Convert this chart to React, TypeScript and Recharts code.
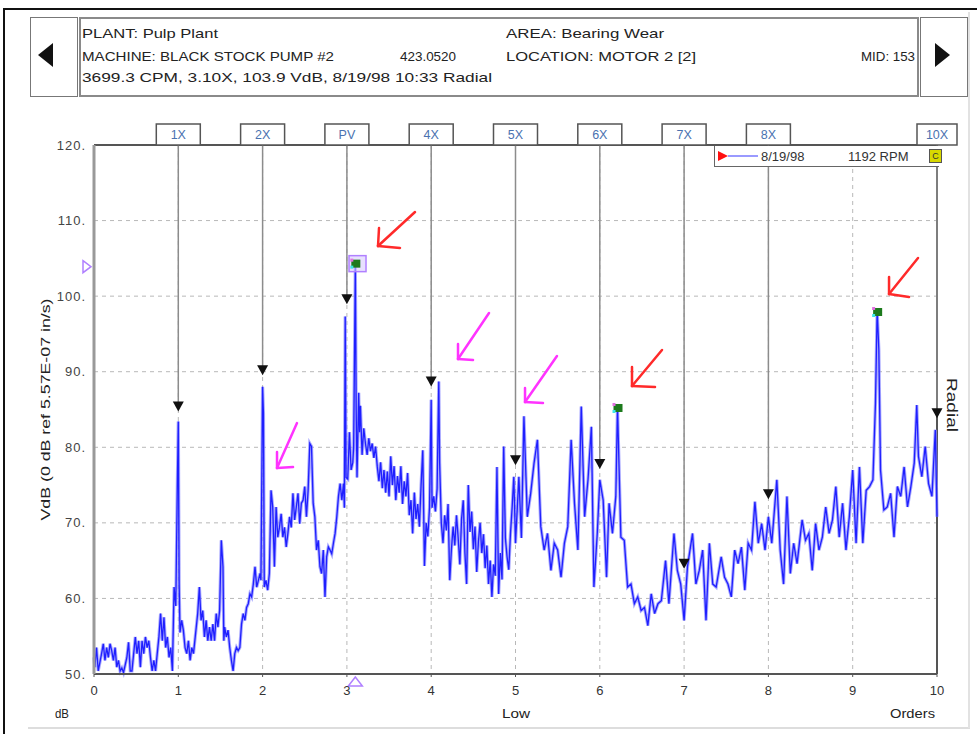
import React from 'react';
import { ComposedChart, Line, Scatter, XAxis, YAxis, CartesianGrid, ReferenceLine, ReferenceDot } from 'recharts';

// Spectrum: order (x) and level in VdB (y)
const orders = [
  0.00, 0.01, 0.03, 0.05, 0.09, 0.11, 0.13, 0.15, 0.17, 0.19, 0.21, 0.23, 0.25, 0.27, 0.29, 0.31, 0.33, 0.35, 0.39, 0.41,
  0.43, 0.45, 0.49, 0.51, 0.53, 0.55, 0.57, 0.59, 0.61, 0.63, 0.65, 0.67, 0.69, 0.71, 0.73, 0.75, 0.77, 0.79, 0.81, 0.83,
  0.85, 0.87, 0.89, 0.91, 0.93, 0.95, 0.97, 0.99, 1.00, 1.01, 1.02, 1.04, 1.06, 1.08, 1.10, 1.12, 1.14, 1.16, 1.18, 1.23,
  1.25, 1.27, 1.29, 1.31, 1.33, 1.35, 1.37, 1.39, 1.41, 1.43, 1.45, 1.47, 1.49, 1.51, 1.53, 1.54, 1.55, 1.57, 1.59, 1.61,
  1.63, 1.65, 1.67, 1.69, 1.71, 1.73, 1.75, 1.77, 1.79, 1.81, 1.83, 1.85, 1.87, 1.89, 1.91, 1.93, 1.95, 1.97, 1.98, 1.99,
  2.00, 2.01, 2.02, 2.04, 2.06, 2.08, 2.10, 2.12, 2.14, 2.16, 2.18, 2.20, 2.22, 2.24, 2.26, 2.28, 2.30, 2.32, 2.34, 2.36,
  2.38, 2.40, 2.42, 2.44, 2.46, 2.48, 2.50, 2.52, 2.54, 2.56, 2.58, 2.60, 2.62, 2.64, 2.66, 2.68, 2.70, 2.72, 2.74, 2.76,
  2.78, 2.80, 2.82, 2.84, 2.86, 2.88, 2.90, 2.92, 2.94, 2.96, 2.97, 2.98, 2.99, 3.01, 3.03, 3.05, 3.07, 3.08, 3.10, 3.11,
  3.12, 3.14, 3.15, 3.16, 3.18, 3.20, 3.22, 3.24, 3.26, 3.28, 3.30, 3.32, 3.34, 3.36, 3.38, 3.40, 3.42, 3.44, 3.46, 3.48,
  3.50, 3.52, 3.54, 3.56, 3.58, 3.60, 3.62, 3.64, 3.66, 3.68, 3.70, 3.72, 3.74, 3.76, 3.78, 3.80, 3.82, 3.84, 3.86, 3.88,
  3.90, 3.92, 3.94, 3.96, 3.98, 4.00, 4.01, 4.03, 4.05, 4.07, 4.09, 4.10, 4.12, 4.14, 4.16, 4.18, 4.20, 4.22, 4.24, 4.26,
  4.28, 4.30, 4.32, 4.34, 4.36, 4.38, 4.40, 4.42, 4.44, 4.46, 4.48, 4.50, 4.52, 4.54, 4.56, 4.58, 4.60, 4.62, 4.64, 4.66,
  4.68, 4.70, 4.72, 4.74, 4.76, 4.78, 4.80, 4.82, 4.84, 4.86, 4.88, 4.90, 4.92, 4.94, 4.96, 4.98, 5.00, 5.04, 5.07, 5.10,
  5.14, 5.18, 5.22, 5.26, 5.30, 5.34, 5.38, 5.42, 5.46, 5.50, 5.54, 5.58, 5.62, 5.66, 5.70, 5.74, 5.78, 5.82, 5.86, 5.90,
  5.93, 5.97, 6.00, 6.04, 6.08, 6.11, 6.15, 6.19, 6.21, 6.25, 6.29, 6.33, 6.37, 6.41, 6.45, 6.49, 6.53, 6.57, 6.61, 6.65,
  6.69, 6.73, 6.78, 6.82, 6.88, 6.92, 6.96, 7.00, 7.04, 7.10, 7.14, 7.18, 7.22, 7.26, 7.30, 7.34, 7.38, 7.44, 7.48, 7.52,
  7.56, 7.60, 7.64, 7.68, 7.72, 7.76, 7.80, 7.84, 7.88, 7.92, 7.96, 8.00, 8.04, 8.10, 8.14, 8.18, 8.22, 8.26, 8.30, 8.34,
  8.40, 8.44, 8.48, 8.52, 8.56, 8.60, 8.64, 8.68, 8.72, 8.76, 8.80, 8.84, 8.88, 8.92, 8.96, 9.00, 9.04, 9.08, 9.12, 9.16,
  9.20, 9.24, 9.27, 9.29, 9.31, 9.33, 9.37, 9.41, 9.45, 9.49, 9.53, 9.57, 9.61, 9.65, 9.69, 9.73, 9.76, 9.78, 9.82, 9.86,
  9.90, 9.94, 9.98, 10.00,
];
const vdb = [
  52.2, 50.9, 53.5, 50.4, 52.7, 54.0, 51.8, 53.5, 52.2, 54.0, 53.1, 51.8, 53.5, 50.9, 51.8, 50.4, 50.8, 50.2, 52.2, 54.2,
  50.4, 50.4, 54.9, 52.7, 54.4, 50.9, 54.4, 52.7, 54.9, 53.5, 54.4, 52.2, 50.4, 51.8, 50.4, 52.7, 54.9, 58.0, 54.4, 57.5,
  53.5, 54.9, 52.2, 53.5, 50.4, 61.5, 59.0, 76.1, 83.4, 62.0, 55.5, 57.1, 55.8, 53.5, 52.7, 54.4, 51.8, 53.5, 52.7, 58.0,
  61.5, 57.1, 58.4, 54.9, 57.1, 54.4, 56.2, 54.4, 56.6, 54.4, 58.0, 56.2, 58.4, 67.7, 64.2, 54.4, 56.2, 54.9, 55.8, 53.5,
  51.8, 50.4, 52.7, 53.5, 53.1, 53.5, 56.6, 58.0, 57.1, 58.8, 59.3, 60.6, 60.2, 61.9, 64.2, 61.5, 62.4, 63.3, 62.4, 75.0,
  88.0, 84.5, 61.5, 62.4, 61.1, 63.3, 74.3, 72.1, 64.2, 72.1, 68.1, 69.4, 71.2, 68.1, 69.4, 66.8, 68.6, 70.8, 69.4, 73.9,
  70.4, 72.1, 73.9, 69.9, 72.6, 73.0, 74.8, 70.8, 74.3, 80.5, 80.1, 72.6, 70.8, 66.4, 67.7, 64.2, 63.3, 66.4, 60.2, 65.5,
  66.8, 66.4, 65.9, 67.3, 68.6, 70.8, 73.5, 75.2, 73.0, 75.2, 72.0, 97.3, 76.0, 75.8, 82.0, 77.0, 78.0, 80.0, 104.0, 85.0,
  76.0, 87.2, 82.0, 85.5, 79.0, 82.5, 80.5, 79.0, 81.2, 79.5, 80.5, 78.6, 80.1, 77.5, 75.5, 78.0, 74.6, 77.0, 74.0, 76.8,
  73.5, 78.8, 75.0, 77.5, 73.0, 76.2, 74.0, 77.5, 72.5, 75.5, 73.5, 76.6, 71.0, 73.0, 68.6, 74.0, 70.5, 72.5, 69.5, 75.0,
  79.6, 64.3, 70.0, 68.2, 72.0, 86.3, 72.0, 73.5, 71.5, 74.5, 88.7, 78.0, 70.0, 67.3, 71.0, 69.0, 72.5, 62.4, 66.5, 69.5,
  67.0, 71.0, 68.0, 64.5, 70.5, 73.0, 66.0, 61.9, 75.0, 68.8, 71.5, 66.5, 69.5, 63.5, 67.5, 70.0, 66.0, 68.5, 64.0, 67.0,
  61.9, 65.0, 60.2, 64.5, 63.0, 77.4, 60.6, 66.0, 62.5, 80.1, 68.0, 65.5, 63.8, 68.5, 72.0, 76.1, 67.3, 76.1, 68.0, 84.1,
  70.8, 73.9, 77.9, 81.0, 69.5, 66.4, 68.6, 63.7, 67.3, 66.4, 62.8, 67.3, 69.5, 81.0, 72.6, 66.4, 85.4, 70.8, 75.7, 82.7,
  61.5, 68.6, 75.7, 73.0, 62.8, 72.6, 68.6, 73.5, 85.4, 68.1, 67.7, 61.5, 61.9, 59.3, 60.2, 58.4, 58.8, 56.4, 60.6, 58.0,
  59.3, 59.7, 65.0, 59.3, 68.6, 63.7, 61.9, 57.1, 64.2, 68.6, 61.9, 63.7, 66.4, 57.1, 67.3, 61.9, 61.5, 65.5, 62.8, 61.9,
  60.2, 66.4, 64.6, 66.8, 61.1, 67.3, 66.4, 72.8, 67.3, 69.9, 66.4, 70.8, 67.3, 75.7, 66.4, 61.9, 73.5, 63.3, 67.3, 64.6,
  70.4, 67.7, 68.6, 63.7, 69.9, 66.4, 68.1, 72.1, 68.6, 70.4, 74.8, 68.1, 72.6, 66.4, 70.8, 77.0, 67.3, 77.4, 67.3, 74.3,
  74.8, 75.7, 85.8, 98.2, 92.9, 77.0, 71.7, 72.1, 73.9, 68.1, 74.8, 73.5, 77.4, 72.1, 74.8, 77.9, 85.6, 78.8, 76.1, 80.1,
  75.2, 73.5, 82.3, 70.8,
];

// Order markers (cursor labels along the top)
const markerNames = ['1X', '2X', 'PV', '4X', '5X', '6X', '7X', '8X', '10X'];
const markerOrders = [1, 2, 3, 4, 5, 6, 7, 8, 10];
const markerLevels = [85.4, 90.2, 99.6, 88.7, 78.3, 77.8, 64.6, 73.8, 84.5];

// Detected peaks (green markers)
const peakOrders = [3.1, 6.21, 9.29];
const peakLevels = [104.3, 85.2, 97.9];

// Cursor reading
const cursorOrder = 3.1;
const cursorLevel = 103.9;

const xTicks = [0, 1, 2, 3, 4, 5, 6, 7, 8, 9, 10];
const yTicks = [50, 60, 70, 80, 90, 100, 110, 120];

// Hand-drawn annotation arrows: [tailX, tailY, headX, headY, barbHx, barbHy, barbVx, barbVy]
const redArrows = [
  [3.808, 111.13, 3.369, 106.63, 3.63, 106.37, 3.381, 109.02],
  [6.738, 92.87, 6.382, 88.11, 6.655, 87.98, 6.382, 90.62],
  [9.775, 105.05, 9.431, 100.28, 9.668, 99.89, 9.431, 102.53],
];
const magentaArrows = [
  [2.408, 83.21, 2.171, 77.26, 2.361, 77.39, 2.171, 79.38],
  [4.686, 97.77, 4.318, 91.68, 4.496, 91.55, 4.318, 93.67],
  [5.492, 92.08, 5.113, 85.99, 5.326, 85.86, 5.113, 87.84],
];

// Header texts: [text, left, baseline, width]
const headerTexts: [string, number, number, number][] = [
  ['PLANT: Pulp Plant', 82, 38, 136],
  ['AREA: Bearing Wear', 506, 38, 158],
  ['MACHINE: BLACK STOCK PUMP #2', 82, 61, 252],
  ['423.0520', 400, 61, 56],
  ['LOCATION: MOTOR 2 [2]', 506, 61, 190],
  ['MID: 153', 861, 61, 54],
  ['3699.3 CPM, 3.10X, 103.9 VdB, 8/19/98 10:33  Radial', 82, 82, 410],
];

const FONT = '"Liberation Sans", Arial, sans-serif';

const TriDown = (p: any) => {
  const { cx, cy } = p;
  if (cx == null || cy == null) return <g />;
  return <path d={`M${cx - 5.5},${cy - 5} L${cx + 5.5},${cy - 5} L${cx},${cy + 5} Z`} fill="#111" />;
};

const PeakMark = (p: any) => {
  const { cx, cy } = p;
  if (cx == null || cy == null) return <g />;
  return (
    <g>
      <rect x={cx - 4} y={cy - 4} width={9} height={8} fill="#1c7a1c" />
      <rect x={cx - 5} y={cy + 2} width={3} height={3} fill="#3ee8e8" />
      <rect x={cx - 5} y={cy - 5} width={3} height={3} fill="#e070e0" />
    </g>
  );
};

const makeLabelBox = (text: string) => (p: any) => {
  const { cx, cy } = p;
  if (cx == null || cy == null) return <g />;
  const w = text.length > 2 ? 40 : 44;
  return (
    <g>
      <rect x={cx - w / 2} y={cy - 21} width={w} height={21} fill="#fff" stroke="#555" strokeWidth={1.5} />
      <text x={cx} y={cy - 6} textAnchor="middle" fontFamily={FONT} fontSize={12.5} fill="#4a72b0">{text}</text>
    </g>
  );
};

const CursorLeft = (p: any) => {
  const { cx, cy } = p;
  if (cx == null || cy == null) return <g />;
  return <path d={`M${cx - 11},${cy - 6} L${cx - 3},${cy} L${cx - 11},${cy + 6} Z`} fill="none" stroke="#b080ff" strokeWidth={1.5} />;
};

const CursorBottom = (p: any) => {
  const { cx, cy } = p;
  if (cx == null || cy == null) return <g />;
  return <path d={`M${cx - 7},${cy + 12} L${cx},${cy + 3} L${cx + 7},${cy + 12} Z`} fill="none" stroke="#b080ff" strokeWidth={1.5} />;
};

const CursorBox = (p: any) => {
  const { cx, cy } = p;
  if (cx == null || cy == null) return <g />;
  return <rect x={cx - 8} y={cy - 8} width={17} height={16} fill="#d9ccff" fillOpacity={0.6} stroke="#b080ff" strokeWidth={1.5} />;
};

function arrowLines(arr: number[][], color: string, prefix: string) {
  const out: any[] = [];
  arr.forEach((a, i) => {
    const segs = [
      [a[0], a[1], a[2], a[3]],
      [a[2], a[3], a[4], a[5]],
      [a[2], a[3], a[6], a[7]],
    ];
    segs.forEach((s, j) => {
      out.push(
        <ReferenceLine
          key={`${prefix}-${i}-${j}`}
          segment={[{ x: s[0], y: s[1] }, { x: s[2], y: s[3] }]}
          stroke={color}
          strokeWidth={2.5}
          strokeLinecap="round"
          ifOverflow="visible"
        />
      );
    });
  });
  return out;
}

export default function App() {
  const lineData = orders.map((x, i) => ({ x, y: vdb[i] }));
  const markerData = markerOrders.map((x, i) => ({ x, y: markerLevels[i] }));
  const peakData = peakOrders.map((x, i) => ({ x, y: peakLevels[i] }));

  return (
    <div style={{ position: 'absolute', left: 0, top: 0, width: 977, height: 734, background: '#fff', overflow: 'hidden' }}>
      {/* outer frame */}
      <div style={{ position: 'absolute', left: 3, top: 8, width: 980, height: 2, background: '#111' }} />
      <div style={{ position: 'absolute', left: 3, top: 8, width: 2, height: 730, background: '#111' }} />
      <div style={{ position: 'absolute', left: 28, top: 727, width: 942, height: 2, background: '#ddd' }} />
      <div style={{ position: 'absolute', left: 968, top: 12, width: 2, height: 716, background: '#e2e2e2' }} />

      {/* header frames */}
      <div style={{ position: 'absolute', left: 30, top: 17, width: 46, height: 78, border: '1px solid #777', background: '#fff' }} />
      <div style={{ position: 'absolute', left: 38, top: 43, width: 0, height: 0, borderTop: '12px solid transparent', borderBottom: '12px solid transparent', borderRight: '15px solid #111' }} />
      <div style={{ position: 'absolute', left: 79, top: 17, width: 836, height: 76, border: '2px solid #8a8a8a', background: '#fff' }} />
      <div style={{ position: 'absolute', left: 920, top: 17, width: 46, height: 78, border: '1px solid #777', background: '#fff' }} />
      <div style={{ position: 'absolute', left: 935, top: 43, width: 0, height: 0, borderTop: '12px solid transparent', borderBottom: '12px solid transparent', borderLeft: '15px solid #111' }} />

      {/* chart */}
      <div style={{ position: 'absolute', left: 0, top: 0 }}>
        <ComposedChart width={977} height={734} margin={{ top: 145, right: 40, bottom: 30, left: 50 }}>
          <CartesianGrid stroke="#b8b8b8" strokeDasharray="4 4" />
          <XAxis
            type="number"
            dataKey="x"
            domain={[0, 10]}
            ticks={xTicks}
            interval={0}
            height={30}
            axisLine={{ stroke: '#555', strokeWidth: 2 }}
            tickLine={{ stroke: '#555' }}
            tickSize={3}
            tickMargin={9}
            tick={{ fontFamily: FONT, fontSize: 13, fill: '#333' }}
          />
          <YAxis
            type="number"
            dataKey="y"
            domain={[50, 120]}
            ticks={yTicks}
            interval={0}
            width={44}
            axisLine={{ stroke: '#999', strokeWidth: 3 }}
            tickLine={false}
            tickMargin={2}
            tickFormatter={(v: number) => `${v}.`}
            tick={{ fontFamily: FONT, fontSize: 13, fill: '#444', letterSpacing: 1 }}
            label={{
              content: (props: any) => {
                const vb = props.viewBox || { x: 50, y: 145, width: 44, height: 529 };
                const cx = vb.x - 3;
                const cy = vb.y + vb.height / 2;
                return (
                  <text x={cx} y={cy} transform={`rotate(-90, ${cx}, ${cy})`} textAnchor="middle" dominantBaseline="middle" fontFamily={FONT} fontSize={13} fill="#222" textLength={222} lengthAdjust="spacingAndGlyphs">
                    VdB (0 dB ref 5.57E-07 in/s)
                  </text>
                );
              },
            }}
          />
          <ReferenceLine y={120} stroke="#555" strokeWidth={2} />
          <ReferenceLine x={10} stroke="#555" strokeWidth={2} />
          {markerOrders.map((x, i) => (
            <ReferenceLine
              key={`ml-${i}`}
              segment={[{ x, y: 120 }, { x, y: markerLevels[i] }]}
              stroke="#8c8c8c"
              strokeWidth={1.5}
            />
          ))}
          <Line
            data={lineData}
            dataKey="y"
            type="linear"
            stroke="#8c8cff"
            strokeWidth={3.2}
            strokeOpacity={0.75}
            dot={false}
            isAnimationActive={false}
          />
          <Line
            data={lineData}
            dataKey="y"
            type="linear"
            stroke="#1f1fff"
            strokeWidth={1.3}
            dot={false}
            isAnimationActive={false}
          />
          <Scatter data={markerData} dataKey="y" shape={TriDown} isAnimationActive={false} />
          <ReferenceDot x={cursorOrder + 0.02} y={cursorLevel + 0.4} ifOverflow="visible" shape={CursorBox} />
          <Scatter data={peakData} dataKey="y" shape={PeakMark} isAnimationActive={false} />
          <ReferenceDot x={0} y={cursorLevel} ifOverflow="visible" shape={CursorLeft} />
          <ReferenceDot x={cursorOrder} y={50} ifOverflow="visible" shape={CursorBottom} />
          {markerOrders.map((x, i) => (
            <ReferenceDot key={`lb-${i}`} x={x} y={120} ifOverflow="visible" shape={makeLabelBox(markerNames[i])} />
          ))}
          {arrowLines(redArrows, '#ff2a2a', 'r')}
          {arrowLines(magentaArrows, '#ff33ff', 'm')}
        </ComposedChart>
      </div>

      {/* header + caption texts */}
      <svg width={977} height={734} style={{ position: 'absolute', left: 0, top: 0, pointerEvents: 'none' }}>
        {headerTexts.map(([s, x, y, w], i) => (
          <text key={i} x={x} y={y} fontFamily={FONT} fontSize={13.5} fill="#222" textLength={w} lengthAdjust="spacingAndGlyphs">{s}</text>
        ))}
        <text x={55} y={718} fontFamily={FONT} fontSize={12.5} fill="#222" textLength={14} lengthAdjust="spacingAndGlyphs">dB</text>
        <text x={502} y={718} fontFamily={FONT} fontSize={12.5} fill="#222" textLength={28} lengthAdjust="spacingAndGlyphs">Low</text>
        <text x={890} y={718} fontFamily={FONT} fontSize={12.5} fill="#222" textLength={45} lengthAdjust="spacingAndGlyphs">Orders</text>
        <text x={951} y={405} transform="rotate(90, 951, 405)" textAnchor="middle" dominantBaseline="middle" fontFamily={FONT} fontSize={15} fill="#222" textLength={54} lengthAdjust="spacingAndGlyphs">Radial</text>
      </svg>

      {/* legend */}
      <div style={{ position: 'absolute', left: 714, top: 146, width: 224, height: 20, borderLeft: '1px solid #666', borderBottom: '1px solid #666', background: '#fff' }}>
        <div style={{ position: 'absolute', left: 3, top: 5, width: 0, height: 0, borderTop: '5px solid transparent', borderBottom: '5px solid transparent', borderLeft: '10px solid #ff1010' }} />
        <div style={{ position: 'absolute', left: 13, top: 9, width: 30, height: 2, background: '#9a9aff' }} />
        <div style={{ position: 'absolute', left: 46, top: 3, fontFamily: FONT, fontSize: 13, color: '#333', lineHeight: '15px' }}>8/19/98</div>
        <div style={{ position: 'absolute', left: 133, top: 3, fontFamily: FONT, fontSize: 13, color: '#333', lineHeight: '15px' }}>1192 RPM</div>
        <div style={{ position: 'absolute', left: 214, top: 3, width: 11, height: 12, background: '#d8d800', border: '1px solid #555', fontFamily: FONT, fontSize: 9, lineHeight: '12px', textAlign: 'center', color: '#333' }}>C</div>
      </div>
    </div>
  );
}
